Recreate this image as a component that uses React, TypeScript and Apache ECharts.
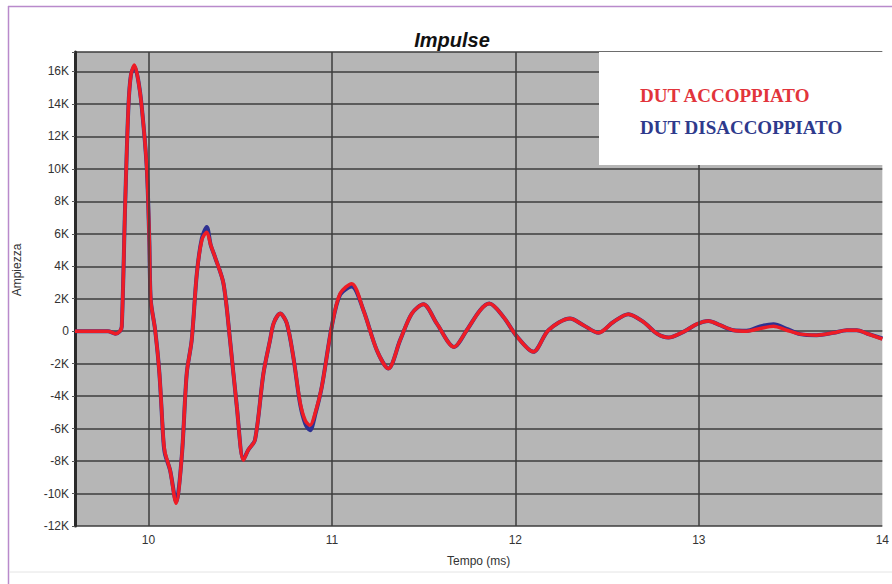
import React, { useEffect, useRef } from "react";
import * as echarts from "echarts";

const times = [
  9.6, 9.78, 9.82, 9.845, 9.855, 9.873, 9.891, 9.905, 9.924, 9.944, 9.964, 9.991, 10.005, 10.013,
  10.037, 10.06, 10.082, 10.091, 10.118, 10.151, 10.182, 10.209, 10.236, 10.264, 10.291, 10.318,
  10.34, 10.363, 10.409, 10.445, 10.482, 10.518, 10.545, 10.581, 10.627, 10.663, 10.683, 10.718,
  10.754, 10.79, 10.827, 10.855, 10.881, 10.91, 10.945, 10.999, 11.045, 11.108, 11.172, 11.245,
  11.308, 11.372, 11.436, 11.499, 11.572, 11.666, 11.735, 11.808, 11.858, 11.935, 12.007, 12.098,
  12.18, 12.298, 12.371, 12.453, 12.534, 12.616, 12.698, 12.771, 12.834, 12.916, 12.988, 13.052,
  13.116, 13.188, 13.261, 13.334, 13.407, 13.479, 13.552, 13.643, 13.734, 13.807, 13.861, 13.916,
  14.0,
];

const accoppiato = [
  0, 0, -150, 0, 300, 7650, 13800, 15800, 16400, 15500, 13800, 10100, 5600, 1900,
  60, -2600, -6700, -7500, -8550, -10600, -7700, -2600, -550, 3550, 5600, 6100,
  5300, 4570, 2950, -550, -4650, -7950, -7300, -6700, -2600, -550, 500, 1090,
  500, -1600, -4400, -5500, -5800, -5000, -3430, 260, 2320, 2930, 1290, -1170,
  -2300, -550, 1090, 1660, 470, -970, 60, 1290, 1700, 880, -300, -1270,
  60, 780, 370, -100, 570, 1050, 570, -140, -390, -40, 430, 630,
  370, 60, 0, 170, 310, 60, -180, -250, -100, 60, 60, -140,
  -480,
];

const disaccoppiato = [
  0, 0, -150, 0, 300, 7650, 13800, 15800, 16300, 15500, 13800, 10100, 5600, 1900,
  60, -2600, -6800, -7600, -8550, -10500, -7700, -2600, -550, 3550, 5700, 6420,
  5300, 4570, 2950, -550, -4650, -7900, -7300, -6700, -2600, -550, 500, 1090,
  500, -1600, -4500, -5700, -6100, -5100, -3430, 260, 2250, 2750, 1290, -1170,
  -2300, -550, 1090, 1660, 470, -970, 60, 1290, 1700, 880, -300, -1270,
  60, 780, 370, -100, 570, 1050, 570, -140, -390, -40, 430, 630,
  370, 60, 30, 300, 430, 150, -180, -250, -100, 60, 60, -140,
  -450,
];

const xTickLabels = [10, 11, 12, 13, 14];
const xGridLines = [10, 11, 12, 13];
const seriesNames = ["DUT ACCOPPIATO", "DUT DISACCOPPIATO"];

export default function App() {
  const ref = useRef<HTMLDivElement>(null);

  useEffect(() => {
    if (!ref.current) return;
    const chart = echarts.init(ref.current, undefined, { renderer: "svg" });
    const pairs = (vals: number[]) => times.map((t, i) => [t, vals[i]]);
    const gridColor = "#3c3c3c";

    chart.setOption({
      animation: false,
      backgroundColor: "#ffffff",
      title: {
        text: "Impulse",
        left: 447,
        top: 25,
        textAlign: "center",
        textStyle: {
          fontFamily: "Liberation Sans",
          fontSize: 20,
          fontWeight: "bold",
          fontStyle: "italic",
          color: "#111",
        },
      },
      grid: {
        left: 75,
        right: 7,
        top: 52,
        bottom: 58,
        show: true,
        backgroundColor: "#b6b6b6",
        borderWidth: 0,
      },
      legend: {
        data: [
          { name: seriesNames[0], textStyle: { color: "#e2343b" } },
          { name: seriesNames[1], textStyle: { color: "#2e3a8c" } },
        ],
        orient: "vertical",
        left: 630,
        top: 80,
        icon: "none",
        itemWidth: 0,
        itemHeight: 14,
        itemGap: 12,
        z: 30,
        textStyle: {
          fontFamily: "Liberation Serif",
          fontWeight: "bold",
          fontSize: 19,
          lineHeight: 20,
        },
      },
      xAxis: {
        type: "value",
        min: 9.6,
        max: 14,
        name: "Tempo (ms)",
        nameLocation: "middle",
        nameGap: 29,
        nameTextStyle: { fontFamily: "Liberation Sans", fontSize: 12, color: "#333" },
        axisLine: { show: false },
        axisTick: { show: false },
        splitLine: { show: false },
        axisLabel: {
          customValues: xTickLabels,
          margin: 8,
          fontFamily: "Liberation Sans",
          fontSize: 12,
          color: "#333",
          formatter: (v: number) => String(v),
        },
      },
      yAxis: {
        type: "value",
        min: -12000,
        max: 17200,
        interval: 2000,
        axisLine: { show: true, lineStyle: { color: "#2a2a2a", width: 3 } },
        axisTick: { show: true, length: 3, lineStyle: { color: "#555" } },
        splitLine: { show: true, lineStyle: { color: gridColor, width: 1.5 } },
        axisLabel: {
          margin: 6,
          fontFamily: "Liberation Sans",
          fontSize: 12,
          color: "#333",
          formatter: (v: number) => {
            if (Math.abs(v % 2000) > 1e-6) return "";
            if (v === 0) return "0";
            return v / 1000 + "K";
          },
        },
      },
      graphic: [
        {
          type: "line",
          shape: { x1: 8, y1: 6.5, x2: 892, y2: 6.5 },
          style: { stroke: "#b98acb", lineWidth: 1.5 },
        },
        {
          type: "line",
          shape: { x1: 8.5, y1: 6, x2: 8.5, y2: 584 },
          style: { stroke: "#b98acb", lineWidth: 1.5 },
        },
        {
          type: "line",
          shape: { x1: 9, y1: 572, x2: 892, y2: 572 },
          style: { stroke: "#e4e4e4", lineWidth: 1 },
        },
        {
          type: "rect",
          z: 20,
          shape: { x: 599, y: 52, width: 286, height: 113 },
          style: { fill: "#ffffff" },
        },
        {
          type: "text",
          x: 17,
          y: 270,
          rotation: Math.PI / 2,
          style: {
            text: "Ampiezza",
            fontFamily: "Liberation Sans",
            fontSize: 12,
            fill: "#333",
            align: "center",
            verticalAlign: "middle",
          },
        },
      ],
      series: [
        {
          name: "grid-x",
          type: "line",
          data: [],
          z: 1,
          silent: true,
          markLine: {
            silent: true,
            symbol: "none",
            label: { show: false },
            lineStyle: { color: gridColor, width: 1.5, type: "solid" },
            data: xGridLines.map((x) => ({ xAxis: x })),
          },
        },
        {
          name: seriesNames[1],
          type: "line",
          data: pairs(disaccoppiato),
          showSymbol: false,
          smooth: 0.3,
          z: 3,
          lineStyle: { color: "#2e3192", width: 4 },
          itemStyle: { color: "#2e3192" },
        },
        {
          name: seriesNames[0],
          type: "line",
          data: pairs(accoppiato),
          showSymbol: false,
          smooth: 0.3,
          z: 4,
          lineStyle: { color: "#ee1c25", width: 3.5 },
          itemStyle: { color: "#ee1c25" },
        },
      ],
    });

    return () => chart.dispose();
  }, []);

  return (
    <div
      ref={ref}
      style={{ position: "fixed", left: 0, top: 0, width: 892, height: 584 }}
    />
  );
}
